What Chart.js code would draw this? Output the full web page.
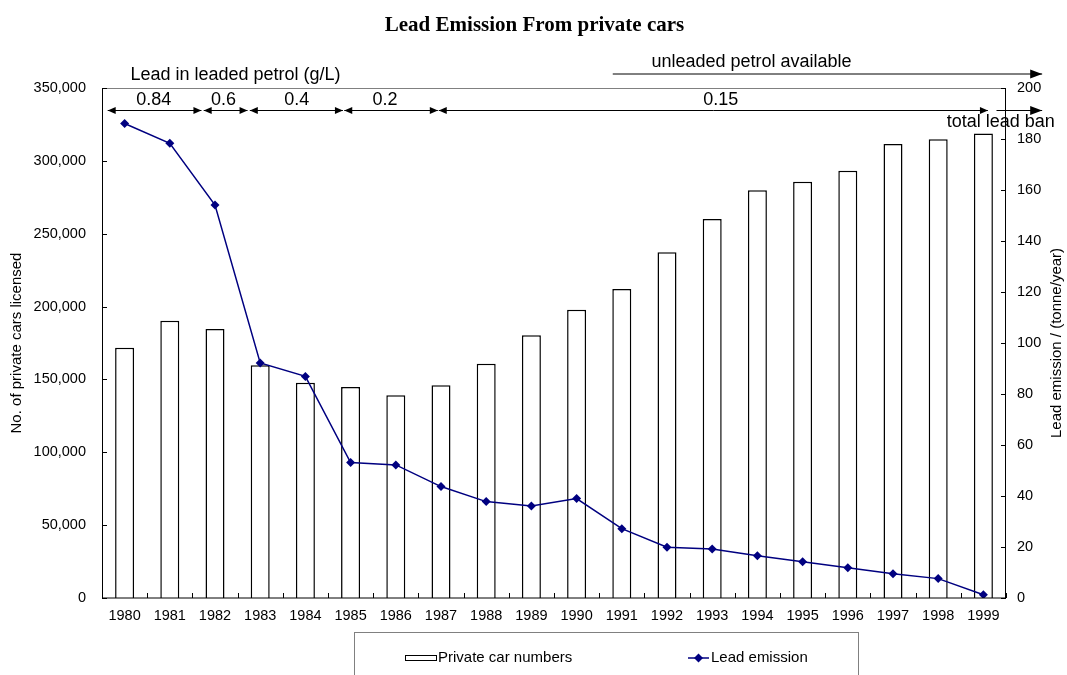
<!DOCTYPE html>
<html>
<head>
<meta charset="utf-8">
<script src="https://cdn.jsdelivr.net/npm/chart.js@4/dist/chart.umd.min.js"></script>
<style>
  html, body { margin: 0; padding: 0; background: #fff; }
  #wrap { width: 1067px; height: 675px; position: relative; }
  canvas { display: block; }
</style>
</head>
<body>
<div id="wrap"><canvas id="c" width="1067" height="675"></canvas></div>
<script>
// ---- data ----
const years = ['1980','1981','1982','1983','1984','1985','1986','1987','1988','1989',
               '1990','1991','1992','1993','1994','1995','1996','1997','1998','1999'];
const carNumbers = [171800,190300,184600,159700,147800,144800,139200,146000,160800,180300,
                    197900,212000,237200,260100,279900,285700,293200,311600,314800,318700];
const leadEmission = [186.1,178.3,154.1,92.2,86.9,53.1,52.2,43.7,37.8,36.1,
                      39.0,27.2,19.9,19.2,16.6,14.2,11.9,9.5,7.6,1.3];
const leftAxisMax = 350000, leftAxisStep = 50000;
const rightAxisMax = 200, rightAxisStep = 20;

const chartTitle = 'Lead Emission From private cars';
const leftAxisTitle = 'No. of private cars licensed';
const rightAxisTitle = 'Lead emission / (tonne/year)';
const seriesNames = ['Private car numbers', 'Lead emission'];

// annotation spans, in category-index units (0 = 1980)
const petrolTitle = 'Lead in leaded petrol (g/L)';
const petrolLeadLabels = ['0.84','0.6','0.4','0.2','0.15'];
const petrolLeadFrom   = [-0.374, 1.75, 2.77, 4.86, 6.95];
const petrolLeadTo     = [1.70, 2.72, 4.83, 6.93, 19.10];
const petrolLeadTextAt = [0.644, 2.19, 3.81, 5.76, 13.19];
const unleadedText = 'unleaded petrol available';
const unleadedFrom = 10.80, unleadedTo = 20.30, unleadedTextAt = 13.87;
const banText = 'total lead ban';
const banFrom = 19.29, banTo = 20.30, banTextLeft = 18.19;

const SANS = '"Liberation Sans", Arial, Helvetica, sans-serif';
const SERIF = '"Liberation Serif", "Times New Roman", serif';

function arrowHead(ctx, x, y, dir, len, half) {
  ctx.beginPath();
  ctx.moveTo(x, y);
  ctx.lineTo(x - dir * len, y - half);
  ctx.lineTo(x - dir * len, y + half);
  ctx.closePath();
  ctx.fill();
}
function arrow(ctx, x1, x2, y, startHead, endHead, len, half) {
  ctx.beginPath();
  ctx.moveTo(x1, y); ctx.lineTo(x2, y);
  ctx.stroke();
  if (startHead) arrowHead(ctx, x1, y, -1, len, half);
  if (endHead) arrowHead(ctx, x2, y, 1, len, half);
}

const decor = {
  id: 'decor',
  afterDatasetsDraw(chart) {
    const ctx = chart.ctx, a = chart.chartArea;
    const x = chart.scales.x, yl = chart.scales.y, yr = chart.scales.y1;
    ctx.save();
    // frame
    ctx.lineWidth = 1;
    ctx.strokeStyle = '#808080';
    ctx.beginPath();
    ctx.moveTo(a.left, a.top + 0.5); ctx.lineTo(a.right, a.top + 0.5);
    ctx.stroke();
    ctx.strokeStyle = '#000';
    ctx.beginPath();
    ctx.moveTo(a.left + 0.5, a.top); ctx.lineTo(a.left + 0.5, a.bottom);
    ctx.lineTo(a.right - 0.5, a.bottom); ctx.lineTo(a.right - 0.5, a.top);
    ctx.stroke();
    // inside ticks
    ctx.beginPath();
    for (let v = 0; v <= leftAxisMax; v += leftAxisStep) {
      const py = Math.round(yl.getPixelForValue(v)) + 0.5;
      ctx.moveTo(a.left, py); ctx.lineTo(a.left + 5, py);
    }
    for (let v = 0; v <= rightAxisMax; v += rightAxisStep) {
      const py = Math.round(yr.getPixelForValue(v)) + 0.5;
      ctx.moveTo(a.right, py); ctx.lineTo(a.right - 5, py);
    }
    for (let i = 0; i <= years.length; i++) {
      const px = Math.round(x.getPixelForValue(i - 0.5)) + 0.5;
      ctx.moveTo(px, a.bottom); ctx.lineTo(px, a.bottom - 5);
    }
    ctx.stroke();
    ctx.restore();
  },
  afterDraw(chart) {
    const ctx = chart.ctx, a = chart.chartArea;
    const x = chart.scales.x;
    ctx.save();
    ctx.fillStyle = '#000';
    ctx.strokeStyle = '#000';
    ctx.lineWidth = 1;
    // title
    ctx.font = 'bold 21px ' + SERIF;
    ctx.textAlign = 'center';
    ctx.textBaseline = 'alphabetic';
    ctx.fillText(chartTitle, 534.5, 31);

    // axis titles
    ctx.font = '15px ' + SANS;
    ctx.textBaseline = 'middle';
    ctx.save();
    ctx.translate(17, (a.top + a.bottom) / 2);
    ctx.rotate(-Math.PI / 2);
    ctx.fillText(leftAxisTitle, 0, 0);
    ctx.restore();
    ctx.save();
    ctx.translate(1057, (a.top + a.bottom) / 2);
    ctx.rotate(-Math.PI / 2);
    ctx.fillText(rightAxisTitle, 0, 0);
    ctx.restore();

    // lead in petrol annotations
    ctx.font = '18px ' + SANS;
    ctx.textAlign = 'left';
    ctx.fillText(petrolTitle, x.getPixelForValue(0.128), a.top - 12.5);
    ctx.textAlign = 'center';
    const arrowY = a.top + 22.5;
    for (let i = 0; i < petrolLeadLabels.length; i++) {
      arrow(ctx, x.getPixelForValue(petrolLeadFrom[i]), x.getPixelForValue(petrolLeadTo[i]),
            arrowY, true, true, 8, 3.5);
      ctx.fillText(petrolLeadLabels[i], x.getPixelForValue(petrolLeadTextAt[i]), a.top + 12);
    }
    // unleaded available
    arrow(ctx, x.getPixelForValue(unleadedFrom), x.getPixelForValue(unleadedTo),
          a.top - 14, false, true, 12, 4.5);
    ctx.fillText(unleadedText, x.getPixelForValue(unleadedTextAt), a.top - 26);
    // total lead ban
    arrow(ctx, x.getPixelForValue(banFrom), x.getPixelForValue(banTo),
          arrowY, false, true, 12, 4.5);
    ctx.textAlign = 'left';
    ctx.fillText(banText, x.getPixelForValue(banTextLeft), a.top + 34);

    // legend
    ctx.strokeStyle = '#808080';
    ctx.strokeRect(354.5, 632.5, 504, 60);
    ctx.strokeStyle = '#000';
    ctx.fillStyle = '#fff';
    ctx.fillRect(405.5, 655.5, 31, 5);
    ctx.strokeRect(405.5, 655.5, 31, 5);
    ctx.fillStyle = '#000';
    ctx.font = '15px ' + SANS;
    ctx.textBaseline = 'middle';
    ctx.fillText(chart.data.datasets[0].label, 438, 658);
    ctx.strokeStyle = '#000080';
    ctx.lineWidth = 1.5;
    ctx.beginPath(); ctx.moveTo(688, 658); ctx.lineTo(709, 658); ctx.stroke();
    ctx.fillStyle = '#000080';
    ctx.beginPath();
    ctx.moveTo(698.5, 653.5); ctx.lineTo(703, 658); ctx.lineTo(698.5, 662.5); ctx.lineTo(694, 658);
    ctx.closePath(); ctx.fill();
    ctx.fillStyle = '#000';
    ctx.fillText(chart.data.datasets[1].label, 711, 658);
    ctx.restore();
  }
};

new Chart(document.getElementById('c'), {
  data: {
    labels: years,
    datasets: [
      {
        type: 'bar',
        label: seriesNames[0],
        data: carNumbers,
        yAxisID: 'y',
        backgroundColor: '#ffffff',
        borderColor: '#000000',
        borderWidth: 1.5,
        categoryPercentage: 1.0,
        barPercentage: 0.42,
        order: 2
      },
      {
        type: 'line',
        label: seriesNames[1],
        data: leadEmission,
        yAxisID: 'y1',
        borderColor: '#000080',
        backgroundColor: '#000080',
        borderWidth: 1.5,
        pointStyle: 'rectRot',
        pointRadius: 4.5,
        pointBorderWidth: 0,
        tension: 0,
        order: 1
      }
    ]
  },
  options: {
    responsive: false,
    animation: false,
    devicePixelRatio: 1,
    layout: { padding: { top: 88, bottom: 0, left: 0, right: 0 } },
    plugins: { legend: { display: false }, title: { display: false }, tooltip: { enabled: false } },
    scales: {
      x: {
        type: 'category',
        offset: true,
        grid: { display: false, drawTicks: false },
        border: { display: false },
        ticks: { color: '#000', font: { family: SANS, size: 14.5 }, padding: 9, maxRotation: 0, autoSkip: false },
        afterFit(s) { s.height = 77; }
      },
      y: {
        position: 'left',
        min: 0, max: leftAxisMax,
        grid: { display: false, drawTicks: false },
        border: { display: false },
        ticks: { stepSize: leftAxisStep, color: '#000', padding: 16,
                 font: { family: SANS, size: 14.5 },
                 callback: v => v.toLocaleString('en-US') },
        afterFit(s) { s.width = 102; }
      },
      y1: {
        position: 'right',
        min: 0, max: rightAxisMax,
        grid: { display: false, drawTicks: false },
        border: { display: false },
        ticks: { stepSize: rightAxisStep, color: '#000', padding: 11,
                 font: { family: SANS, size: 14.5 } },
        afterFit(s) { s.width = 61; }
      }
    }
  },
  plugins: [decor]
});
</script>
</body>
</html>
